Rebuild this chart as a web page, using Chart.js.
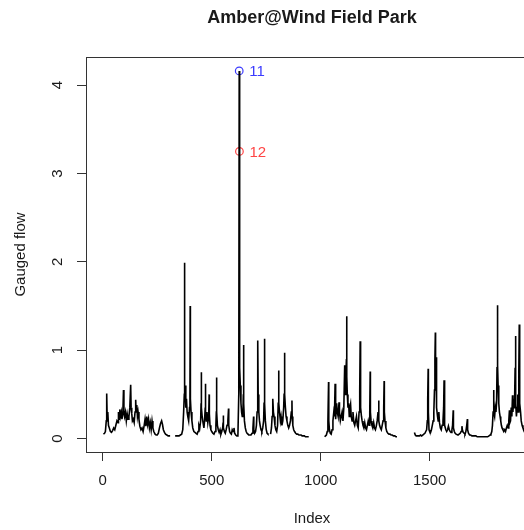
<!DOCTYPE html>
<html>
<head>
<meta charset="utf-8">
<title>Amber@Wind Field Park</title>
<script src="https://cdn.jsdelivr.net/npm/chart.js@4/dist/chart.umd.min.js"></script>
<style>
  html, body { margin: 0; padding: 0; background: #fff; overflow: hidden; }
  #wrap { width: 524px; height: 530px; overflow: hidden; }
</style>
</head>
<body>
<div id="wrap"><canvas id="flowChart" width="600" height="530"></canvas></div>
<script>
// Gauged flow by record index (gaps between segments are missing records)
const seg1Index = [3, 8, 12, 16, 18, 20, 23, 26, 30, 35,
  40, 45, 50, 55, 60, 65, 70, 72, 75, 78,
  81, 85, 88, 92, 95, 97, 100, 104, 108, 112,
  116, 120, 124, 128, 130, 133, 136, 140, 144, 148,
  151, 153, 156, 159, 162, 166, 170, 175, 180, 185,
  190, 194, 198, 202, 206, 210, 214, 218, 222, 226,
  230, 234, 240, 245, 250, 255, 260, 265, 270, 274,
  278, 283, 288, 294, 300, 306, 309];
const seg1Flow = [0.05, 0.06, 0.08, 0.2, 0.51, 0.25, 0.3, 0.15, 0.12, 0.08,
  0.07, 0.09, 0.12, 0.1, 0.15, 0.2, 0.18, 0.3, 0.22, 0.33,
  0.25, 0.3, 0.22, 0.28, 0.55, 0.3, 0.25, 0.3, 0.2, 0.28,
  0.22, 0.25, 0.35, 0.61, 0.35, 0.28, 0.2, 0.22, 0.18, 0.3,
  0.44, 0.3, 0.38, 0.25, 0.3, 0.22, 0.14, 0.1, 0.12, 0.08,
  0.15, 0.22, 0.14, 0.25, 0.16, 0.22, 0.12, 0.18, 0.1, 0.2,
  0.12, 0.08, 0.05, 0.04, 0.04, 0.06, 0.12, 0.17, 0.2, 0.16,
  0.1, 0.07, 0.05, 0.04, 0.03, 0.03, 0.03];

const seg2Index = [332, 338, 344, 350, 356, 362, 367, 371, 374, 375,
  376, 378, 381, 384, 387, 390, 394, 398, 400, 401,
  402, 405, 409, 413, 418, 423, 428, 433, 437, 441,
  445, 449, 451, 452, 453, 456, 460, 464, 467, 470,
  471, 472, 475, 478, 482, 486, 488, 489, 492, 496,
  500, 505, 510, 515, 519, 521, 522, 523, 526, 530,
  534, 538, 542, 546, 550, 552, 553, 554, 558, 562,
  566, 570, 574, 577, 578, 582, 586, 590, 594, 598,
  602, 605, 610, 615, 620, 624, 626, 627, 628, 629,
  631, 634, 637, 640, 643, 645, 646, 647, 650, 654,
  658, 662, 666, 670, 675, 680, 685, 689, 692, 693,
  697, 701, 705, 708, 710, 712, 713, 716, 719, 722,
  726, 730, 734, 738, 740, 742, 743, 746, 750, 754,
  758];
const seg2Flow = [0.03, 0.03, 0.03, 0.03, 0.04, 0.05, 0.1, 0.3, 0.5, 1.99,
  0.5, 0.6, 0.35, 0.45, 0.3, 0.25, 0.2, 0.35, 0.5, 1.5,
  0.45, 0.3, 0.2, 0.12, 0.08, 0.07, 0.06, 0.05, 0.08, 0.15,
  0.12, 0.2, 0.4, 0.75, 0.35, 0.25, 0.18, 0.12, 0.2, 0.35,
  0.62, 0.3, 0.2, 0.3, 0.18, 0.25, 0.5, 0.28, 0.15, 0.1,
  0.08, 0.06, 0.05, 0.08, 0.15, 0.3, 0.69, 0.3, 0.15, 0.1,
  0.07, 0.1, 0.05, 0.08, 0.12, 0.18, 0.26, 0.12, 0.08, 0.06,
  0.1, 0.15, 0.2, 0.34, 0.15, 0.08, 0.06, 0.05, 0.1, 0.08,
  0.12, 0.06, 0.04, 0.03, 0.03, 0.5, 4.16, 3.25, 1.36, 0.8,
  0.6, 0.4, 0.3, 0.25, 0.3, 0.5, 1.06, 0.4, 0.2, 0.12,
  0.08, 0.06, 0.05, 0.04, 0.04, 0.04, 0.06, 0.12, 0.25, 0.1,
  0.06, 0.08, 0.15, 0.3, 0.55, 1.11, 0.5, 0.3, 0.2, 0.15,
  0.1, 0.08, 0.12, 0.2, 0.4, 1.13, 0.4, 0.2, 0.1, 0.06,
  0.05];

const seg3Index = [770, 774, 777, 779, 781, 783, 786, 790, 794, 798,
  802, 805, 807, 808, 811, 815, 818, 822, 826, 830,
  832, 834, 835, 838, 841, 845, 849, 853, 857, 861,
  865, 868, 869, 872, 876, 880, 885, 890, 895, 900,
  905, 910, 915, 920, 925, 930, 935, 940, 945];
const seg3Flow = [0.05, 0.12, 0.25, 0.35, 0.45, 0.3, 0.25, 0.15, 0.1, 0.08,
  0.15, 0.4, 0.77, 0.4, 0.3, 0.2, 0.25, 0.15, 0.2, 0.35,
  0.5, 0.97, 0.5, 0.35, 0.25, 0.2, 0.15, 0.12, 0.15, 0.2,
  0.3, 0.43, 0.25, 0.15, 0.1, 0.08, 0.06, 0.05, 0.05, 0.04,
  0.04, 0.04, 0.03, 0.03, 0.03, 0.02, 0.02, 0.02, 0.02];

const seg4Index = [1018, 1022, 1026, 1030, 1033, 1036, 1037, 1040, 1044, 1048,
  1052, 1056, 1060, 1063, 1066, 1067, 1070, 1073, 1076, 1080,
  1084, 1086, 1090, 1094, 1098, 1102, 1106, 1110, 1112, 1115,
  1118, 1119, 1120, 1122, 1125, 1128, 1131, 1134, 1137, 1140,
  1144, 1148, 1152, 1156, 1160, 1164, 1168, 1172, 1176, 1179,
  1181, 1182, 1184, 1187, 1190, 1194, 1198, 1202, 1206, 1210,
  1214, 1218, 1222, 1225, 1227, 1228, 1231, 1235, 1239, 1243,
  1247, 1251, 1255, 1259, 1263, 1266, 1267, 1270, 1274, 1278,
  1282, 1286, 1289, 1291, 1292, 1295, 1299, 1303, 1308, 1313,
  1318, 1323, 1328, 1334, 1340, 1345, 1350];
const seg4Flow = [0.02, 0.03, 0.04, 0.08, 0.2, 0.64, 0.2, 0.1, 0.06, 0.05,
  0.1, 0.2, 0.3, 0.25, 0.62, 0.3, 0.22, 0.4, 0.3, 0.25,
  0.41, 0.3, 0.2, 0.25, 0.3, 0.2, 0.35, 0.83, 0.5, 0.7,
  0.9, 1.385, 0.7, 0.5, 0.35, 0.4, 0.25, 0.35, 0.39, 0.25,
  0.2, 0.3, 0.18, 0.15, 0.2, 0.25, 0.15, 0.12, 0.3, 0.55,
  1.1, 0.55, 0.35, 0.25, 0.2, 0.15, 0.12, 0.18, 0.12, 0.1,
  0.15, 0.2, 0.15, 0.3, 0.76, 0.3, 0.2, 0.15, 0.12, 0.18,
  0.12, 0.1, 0.14, 0.2, 0.3, 0.43, 0.2, 0.15, 0.12, 0.1,
  0.15, 0.2, 0.35, 0.65, 0.3, 0.2, 0.12, 0.08, 0.06, 0.05,
  0.05, 0.04, 0.04, 0.03, 0.03, 0.02, 0.02];

const seg5Index = [1430, 1434, 1438, 1443, 1448, 1453, 1458, 1463, 1468, 1473,
  1478, 1482, 1486, 1489, 1491, 1493, 1494, 1497, 1500, 1504,
  1508, 1512, 1516, 1519, 1522, 1524, 1526, 1527, 1529, 1530,
  1533, 1536, 1539, 1542, 1545, 1549, 1553, 1557, 1561, 1564,
  1566, 1567, 1570, 1574, 1578, 1582, 1586, 1590, 1594, 1598,
  1602, 1605, 1608, 1609, 1613, 1617, 1621, 1625, 1630, 1635,
  1640, 1644, 1648, 1650, 1654, 1658, 1662, 1666, 1670, 1673,
  1674, 1678, 1683, 1688, 1694, 1700, 1706, 1712, 1718, 1724,
  1730, 1736, 1742, 1748, 1754, 1760, 1766, 1772, 1777, 1781,
  1785, 1788, 1791, 1793, 1795, 1798, 1801, 1804, 1807, 1809,
  1811, 1812, 1814, 1817, 1820, 1823, 1826, 1829, 1832, 1836,
  1840, 1844, 1848, 1852, 1856, 1860, 1863, 1866, 1868, 1871,
  1874, 1877, 1880, 1882, 1885, 1887, 1890, 1892, 1894, 1895,
  1898, 1901, 1904, 1906, 1909, 1911, 1912, 1914, 1917, 1920,
  1924, 1928, 1932, 1936, 1940, 1944, 1948, 1951];
const seg5Flow = [0.07, 0.04, 0.03, 0.03, 0.03, 0.03, 0.04, 0.03, 0.04, 0.05,
  0.06, 0.08, 0.1, 0.2, 0.45, 0.79, 0.3, 0.1, 0.08, 0.07,
  0.1, 0.15, 0.2, 0.3, 0.55, 0.9, 1.2, 0.6, 0.92, 0.5,
  0.35, 0.25, 0.2, 0.3, 0.18, 0.12, 0.1, 0.15, 0.2, 0.35,
  0.66, 0.3, 0.15, 0.1, 0.08, 0.1, 0.14, 0.1, 0.08, 0.07,
  0.1, 0.15, 0.32, 0.12, 0.08, 0.06, 0.05, 0.05, 0.04, 0.05,
  0.06, 0.08, 0.14, 0.1, 0.07, 0.06, 0.05, 0.08, 0.15, 0.22,
  0.1, 0.06, 0.04, 0.04, 0.03, 0.03, 0.03, 0.03, 0.02, 0.02,
  0.02, 0.02, 0.02, 0.02, 0.02, 0.02, 0.02, 0.03, 0.04, 0.05,
  0.08, 0.15, 0.3, 0.55, 0.3, 0.25, 0.35, 0.3, 0.4, 0.8,
  1.51, 0.83, 0.6, 0.4, 0.3, 0.25, 0.2, 0.15, 0.12, 0.1,
  0.08, 0.1, 0.08, 0.12, 0.15, 0.12, 0.2, 0.32, 0.18, 0.2,
  0.35, 0.25, 0.49, 0.3, 0.45, 0.35, 0.5, 0.8, 1.16, 0.4,
  0.25, 0.35, 0.5, 0.3, 0.77, 1.29, 0.66, 0.4, 0.3, 0.2,
  0.15, 0.12, 0.1, 0.08, 0.07, 0.06, 0.05, 0.05];

// the two identified points
const markIndex = [626, 627];
const markFlow = [4.16, 3.25];
const markLabel = ['11', '12'];
const markColor = ['#3b3bff', '#ff4545'];

const xTicks = [0, 500, 1000, 1500];
const yTicks = [0, 1, 2, 3, 4];

const chartTitle = 'Amber@Wind Field Park';
const xTitle = 'Index';
const yTitle = 'Gauged flow';

const FONT = '"Liberation Sans", Arial, Helvetica, sans-serif';
const INK = '#1a1a1a';

// join the segments, with a null between them so the line breaks
const segments = [
  [seg1Index, seg1Flow], [seg2Index, seg2Flow], [seg3Index, seg3Flow],
  [seg4Index, seg4Flow], [seg5Index, seg5Flow]
];
const flowPoints = [];
segments.forEach(([idx, val], s) => {
  if (s > 0) flowPoints.push({ x: idx[0] - 1, y: null });
  idx.forEach((v, i) => flowPoints.push({ x: v, y: val[i] }));
});

const markPoints = markIndex.map((v, i) => ({ x: v, y: markFlow[i] }));

// R-style frame, main title and the point labels
const rDecor = {
  id: 'rDecor',
  afterDraw(chart) {
    const { ctx, chartArea: a, scales: { x, y } } = chart;
    ctx.save();
    ctx.strokeStyle = '#333';
    ctx.lineWidth = 1;
    ctx.strokeRect(a.left + 0.5, a.top + 0.5, a.right - a.left, a.bottom - a.top);

    ctx.fillStyle = INK;
    ctx.font = 'bold 18px ' + FONT;
    ctx.textAlign = 'center';
    ctx.textBaseline = 'middle';
    ctx.fillText(chartTitle, (a.left + a.right) / 2, 18);

    ctx.font = '15px ' + FONT;
    ctx.textAlign = 'left';
    markIndex.forEach((v, i) => {
      ctx.fillStyle = markColor[i];
      ctx.fillText(markLabel[i], x.getPixelForValue(v) + 10, y.getPixelForValue(markFlow[i]) + 1);
    });
    ctx.restore();
  }
};

new Chart(document.getElementById('flowChart'), {
  type: 'line',
  data: {
    datasets: [{
      data: flowPoints,
      borderColor: '#000',
      borderWidth: 1.6,
      pointRadius: 0,
      tension: 0,
      spanGaps: false
    }, {
      data: markPoints,
      showLine: false,
      pointRadius: 3.8,
      pointBorderWidth: 1.2,
      pointBackgroundColor: 'rgba(0,0,0,0)',
      pointBorderColor: markColor
    }]
  },
  options: {
    responsive: false,
    animation: false,
    events: [],
    layout: { padding: { top: 57, right: 62, left: 0, bottom: 0 } },
    plugins: { legend: { display: false }, tooltip: { enabled: false }, title: { display: false } },
    scales: {
      x: {
        type: 'linear',
        min: -77,
        max: 1997,
        border: { display: false },
        grid: { drawOnChartArea: false, drawTicks: true, tickLength: 9, color: '#333' },
        afterBuildTicks(scale) { scale.ticks = xTicks.map(v => ({ value: v })); },
        ticks: {
          autoSkip: false, maxRotation: 0,
          padding: 11, color: INK, font: { family: FONT, size: 15 },
          callback: v => String(v)
        },
        title: { display: true, text: xTitle, color: INK, font: { family: FONT, size: 15 }, padding: { top: 0, bottom: 2 } },
        afterFit(scale) { scale.height = 78; }
      },
      y: {
        type: 'linear',
        min: -0.152,
        max: 4.318,
        border: { display: false },
        grid: { drawOnChartArea: false, drawTicks: true, tickLength: 9, color: '#333' },
        afterBuildTicks(scale) { scale.ticks = yTicks.map(v => ({ value: v })); },
        ticks: {
          minRotation: 90, maxRotation: 90, crossAlign: 'center',
          padding: 15, color: INK, font: { family: FONT, size: 15 },
          callback: v => String(v)
        },
        title: { display: true, text: yTitle, color: INK, font: { family: FONT, size: 15 }, padding: { top: 12, bottom: 0 } },
        afterFit(scale) { scale.width = 86; }
      }
    }
  },
  plugins: [rDecor]
});
</script>
</body>
</html>
